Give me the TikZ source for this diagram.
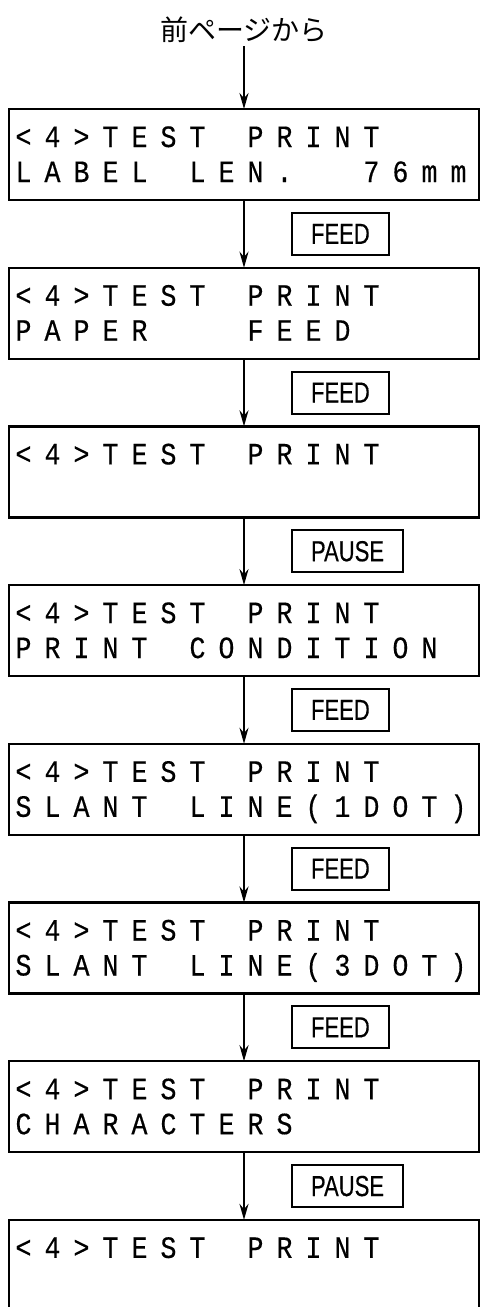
\documentclass[tikz,border=0pt]{standalone}
\usepackage{fontspec}
\usepackage{tikz}
\usetikzlibrary{arrows.meta, positioning}
\newfontfamily\lcdfont[FakeStretch=0.86, FakeBold=0.4]{Liberation Mono}
\newfontfamily\keyfont[FakeStretch=0.76, FakeBold=0.3]{Liberation Sans}
\newfontfamily\jpfont{Noto Sans CJK JP}
\newlength\lcdpitch
\setlength\lcdpitch{29pt}
\newcommand\lcdstrut{\rule[-7.5pt]{0pt}{35pt}}
% one LCD row, one fixed cell per character (~ = blank cell)
\ExplSyntaxOn
\NewDocumentCommand \lcdline { m }
  {
    \lcdstrut
    \str_map_inline:nn {#1}
      {
        \str_if_eq:eeTF {##1} { \c_tilde_str }
          { \hspace*{\lcdpitch} }
          { \makebox[\lcdpitch][c]{##1} }
      }
  }
\ExplSyntaxOff

\begin{document}
\begin{tikzpicture}[x=1pt, y=1pt, node distance=67.7pt,
    screen/.style={rectangle, draw, line width=2.4pt, outer sep=0pt, inner sep=0pt, text width=470pt, minimum height=91pt, align=left, font=\lcdfont\fontsize{31pt}{35pt}\selectfont},
    key/.style={rectangle, draw, line width=2pt, inner xsep=19pt, inner ysep=0pt, minimum height=42pt, font=\keyfont\fontsize{29pt}{30pt}\selectfont},
    arrow/.style={line width=2.2pt, -{Stealth[length=16pt, width=9pt]}}]

    \useasboundingbox (0,0) rectangle (480,-1307);

    % Nodes
    \node[font=\jpfont\fontsize{28pt}{30pt}\selectfont] (prevpage) at (244,-30) {前ページから};
    \node[screen, anchor=north west] (lablen) at (9,-109) {\lcdline{<4>TEST~PRINT}\\\lcdline{LABEL~LEN.~~76mm}};
    \node[screen, below=of lablen] (paperfeed) {\lcdline{<4>TEST~PRINT}\\\lcdline{PAPER~~~FEED}};
    \node[screen, below=of paperfeed] (idle1) {\lcdline{<4>TEST~PRINT}\\\lcdline{}};
    \node[screen, below=of idle1] (condition) {\lcdline{<4>TEST~PRINT}\\\lcdline{PRINT~CONDITION}};
    \node[screen, below=of condition] (slant1) {\lcdline{<4>TEST~PRINT}\\\lcdline{SLANT~LINE(1DOT)}};
    \node[screen, below=of slant1] (slant3) {\lcdline{<4>TEST~PRINT}\\\lcdline{SLANT~LINE(3DOT)}};
    \node[screen, below=of slant3] (chars) {\lcdline{<4>TEST~PRINT}\\\lcdline{CHARACTERS}};
    \node[screen, below=of chars] (idle2) {\lcdline{<4>TEST~PRINT}\\\lcdline{}};

    % Flows
    \draw[arrow] (prevpage) -- (lablen);
    \draw[arrow] (lablen) -- node[key, right=47pt] {FEED} (paperfeed);
    \draw[arrow] (paperfeed) -- node[key, right=47pt] {FEED} (idle1);
    \draw[arrow] (idle1) -- node[key, right=47pt] {PAUSE} (condition);
    \draw[arrow] (condition) -- node[key, right=47pt] {FEED} (slant1);
    \draw[arrow] (slant1) -- node[key, right=47pt] {FEED} (slant3);
    \draw[arrow] (slant3) -- node[key, right=47pt] {FEED} (chars);
    \draw[arrow] (chars) -- node[key, right=47pt] {PAUSE} (idle2);
\end{tikzpicture}
\end{document}
